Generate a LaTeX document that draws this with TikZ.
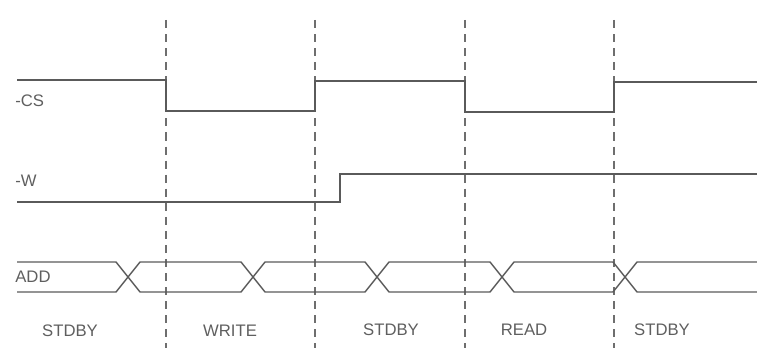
\documentclass[tikz,border=0pt]{standalone}
\usepackage{xcolor}
\usepackage{fontspec}
\setmainfont{Liberation Sans}
\usepackage{tikz}
\usetikzlibrary{positioning}
\definecolor{WireGray}{HTML}{5A5A5A}
\definecolor{GridGray}{HTML}{6E6E6E}
\definecolor{TextGray}{HTML}{5F5F5F}
\tikzset{
  signal/.style={draw=WireGray,line width=0.9pt,line join=miter},
  busline/.style={draw=WireGray,line width=0.8pt},
  phaseline/.style={draw=GridGray,line width=0.8pt,dash pattern=on 4.6pt off 3.4pt},
  siglabel/.style={anchor=west,inner sep=0pt,text=TextGray,
    font=\fontsize{9.5}{11}\selectfont},
  phaselabel/.style={inner sep=0pt,text=TextGray,
    font=\fontsize{9.5}{11}\selectfont},
}

\begin{document}
\begin{tikzpicture}[x=0.02cm,y=-0.02cm]
  \useasboundingbox (0,0) rectangle (757,348);
  % phase boundaries
  \foreach \x in {166,315,465,614}
    \draw[phaseline] (\x,20) -- (\x,348);
  % -CS
  \node[siglabel] (lblcs) at (15,101) {-CS};
  \draw[signal] (17,80) -- (166,80) -- (166,111) -- (315,111) -- (315,81)
    -- (465,81) -- (465,112) -- (614,112) -- (614,82) -- (757,82);
  % -W
  \node[siglabel] (lblw) at (15,181) {-W};
  \draw[signal] (17,202) -- (340,202) -- (340,174) -- (757,174);
  % ADD bus
  \node[siglabel] (lbladd) at (15,277) {ADD};
  \draw[busline] (17,262) -- (116,262) -- (128,277) -- (116,292) -- (17,292);
  \foreach \a/\b in {128/253,253/377,377/502,502/625}
    \draw[busline] (\a,277) -- (\a+12,262) -- (\b-12,262) -- (\b,277)
      -- (\b-12,292) -- (\a+12,292) -- cycle;
  \draw[busline] (757,262) -- (637,262) -- (625,277) -- (637,292) -- (757,292);
  % phases
  \node[phaselabel] (ph1) at (70,331) {STDBY};
  \node[phaselabel] (ph2) at (230,331) {WRITE};
  \node[phaselabel] (ph3) at (391,330) {STDBY};
  \node[phaselabel] (ph4) at (524,330) {READ};
  \node[phaselabel] (ph5) at (662,330) {STDBY};
\end{tikzpicture}
\end{document}
